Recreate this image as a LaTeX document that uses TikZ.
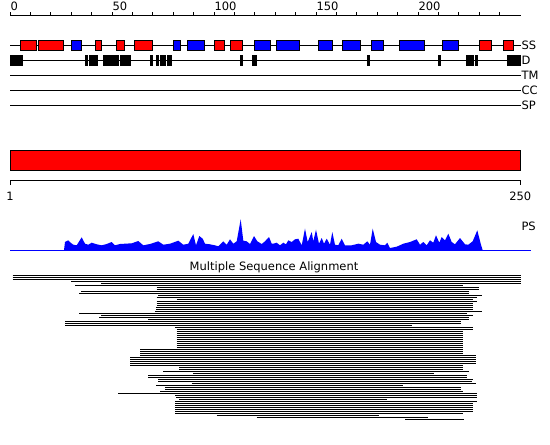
\documentclass[tikz,border=0pt]{standalone}
\usepackage{fontspec}
\setmainfont{DejaVu Sans}
\definecolor{ssred}{HTML}{FF0000}
\definecolor{ssblue}{HTML}{0000FF}
\tikzset{
  every picture/.style={line width=1pt},
  helix/.style={draw=black, fill=ssred},
  strand/.style={draw=black, fill=ssblue},
  disorder/.style={fill=black},
  tracklabel/.style={anchor=base west, inner sep=0pt, font=\fontsize{11.5}{13}\selectfont},
  ticklabel/.style={inner sep=0pt, font=\fontsize{11.5}{13}\selectfont},
  alnrow/.style={draw=black, line width=1.1pt},
}

\begin{document}
\begin{tikzpicture}[x=1pt, y=-1pt]
  \useasboundingbox (0,0) rectangle (550,445);
  % residue ruler
  \draw (10,15) -- (520.7,15);
  \foreach \r in {0,10,...,240} \draw ({10+2.04*\r},15) -- ({10+2.04*\r},11.5);
  \foreach \r in {0,50,...,200} \node[ticklabel, anchor=base west] (tick\r) at ({10+2.04*\r},10.3) {\r};
  % tracks
  \foreach \y/\t in {45/SS, 60.5/D, 75/TM, 90/CC, 105/SP} {
    \draw (10,\y) -- (520.7,\y);
    \node[tracklabel] (lbl\t) at (521,\y+4.2) {\t};
  }
  \foreach \a/\b in {20.7/36.7, 38.3/63.3, 95.3/101.7, 116/124.3, 134.3/152.7, 214.3/224.7, 230.3/242.3, 479.3/491.7, 503.3/513.3}
    \draw[helix] (\a,40) rectangle (\b,50);
  \foreach \a/\b in {71/81.7, 173.3/180, 187.3/204, 254.3/270, 276.7/299.3, 318.3/332.7, 342.3/360.7, 371.3/383.3, 399.3/424.3, 442.3/458.3}
    \draw[strand] (\a,40) rectangle (\b,50);
  \foreach \a/\b in {10/22.7, 85/87.7, 89/97.7, 103.3/119, 120/130.7, 150/152.7, 155.7/158.7, 160/166, 167/172, 240/242.7, 252.3/256.7, 367.3/369.7, 438.3/441, 466/473.7, 475/478, 507.3/520.7}
    \fill[disorder] (\a,55) rectangle (\b,65.7);

  % whole chain and its length
  \draw[helix] (10,150) rectangle (520.7,170.7);
  \draw (10,185) -- (10,180.7) -- (520.3,180.7) -- (520.3,185);
  \node[ticklabel, anchor=base] (lenfirst) at (10,200) {1};
  \node[ticklabel, anchor=base] (lenlast) at (520.3,200) {250};

  % PS profile
  \draw[ssblue] (10,250) -- (530.7,250);
  \fill[ssblue] plot coordinates {(64,250.3) (65,242) (68.3,240.3) (70.7,242.7) (73.3,244.7) (76.7,245.3) (81.7,237.3) (85,243.7) (88.3,244.7) (91.7,242.7) (96.7,244.3) (101.7,245.3) (106.7,244) (111.7,242) (115,245.3) (120,244) (125,243.7) (131.7,243.3) (138.3,241) (143.3,245.3) (150,244) (158.3,241.3) (163.3,244.7) (170,243.7) (178.3,240.7) (183.3,244.7) (188.3,243.7) (193.3,234) (196,245.3) (199.3,236) (202.7,238.7) (205,243.7) (210,244.3) (215,245.3) (218.3,246.3) (223.3,241.3) (226.7,244.7) (230,239.3) (233.3,243.7) (236.7,241.3) (240.7,219.3) (243.3,240.7) (246.7,241.3) (250,244) (254,236) (257.3,241.3) (261.7,244) (265,241.3) (269,237) (271.7,243.7) (273.3,243.7) (276.7,242.7) (280,245.3) (283.3,242.7) (286,244.3) (288.3,240.3) (291.7,242) (295,239.3) (298.3,238.7) (301.7,245.3) (305,228.7) (307.7,242) (311.7,232) (313.3,241.3) (316,229.7) (319,243.7) (321.7,238) (324,243.7) (326.7,238.7) (330,244.7) (332.3,232) (335,244.7) (338.3,245.3) (341.7,238.7) (345,245.3) (351.7,245.3) (358.3,243.7) (363.3,244.7) (367.3,241.3) (370,244.7) (372.7,228.7) (376,242) (380,244.7) (385,245.3) (387.3,242.7) (390,248) (396.7,246.7) (403.3,243.7) (410,242) (416.7,239.3) (420,244.7) (423.3,242) (426.7,245.3) (430,240.3) (433.3,242.7) (436,235.3) (439.3,242.7) (441.7,237) (445,240.3) (448.3,233.7) (451.7,242) (455,244.3) (460,238) (465,244.3) (468.3,244.7) (472.7,241.3) (477.3,230.3) (480.7,243.7) (482.7,250.3)} -- cycle;
  \node[tracklabel] (lblPS) at (521,230.7) {PS};

  % alignment
  \node[ticklabel, anchor=base] (alntitle) at (274,270) {Multiple Sequence Alignment};
  \foreach \k/\s/\e in {0/12.7/520.7, 1/12.7/520.7, 2/12.7/520.7, 3/71/520.7, 4/101/520.7, 5/75/462.7, 6/156.7/479.3, 7/156.7/479.3, 8/81/469.3, 9/79.3/469.3,
      10/158.3/481.7, 11/156.7/477.3, 12/176.7/473.3, 13/156.7/477.3, 14/156.7/473.3, 15/156.7/473.3, 16/156/473.3, 17/156/473.3, 18/155/481.7, 19/79.3/466.7,
      20/101/473.3, 21/99.3/469.3, 22/148.3/469.3, 23/65/460.7, 24/65/460.7, 25/65/411.7, 26/175/473.3, 27/176.7/473.3, 28/176.7/462.7, 29/176.7/462.7,
      30/176.7/462.7, 31/176.7/462.7, 32/176.7/462.7, 33/176.7/462.7, 34/176.7/462.7, 35/176.7/462.7, 36/176.7/462.7, 37/140/462.7, 38/140/462.7, 39/140/462.7,
      40/140/475.7, 41/130/475.7, 42/130/475.7, 43/130/475.7, 44/130/475.7, 45/130/462.7, 46/179.3/462.7, 47/179.3/462.7, 48/163.3/469.3, 49/193.3/434.3,
      50/148.3/466.7, 51/148.3/466.7, 52/158/473.3, 53/158.3/471.7, 54/191.7/475.7, 55/156/403.3, 56/165/460.7, 57/165/460.7, 58/160/462.7, 59/118.3/477.3,
      60/175/477.3, 61/176/477.3, 62/179.3/387.3, 63/175/477.3, 64/175/473.3, 65/175/473.3, 66/175/473.3, 67/175/473.3, 68/175/473.3, 69/175/462.7,
      70/216.7/379, 71/256.7/428, 72/405/464}
    \draw[alnrow] (\s,{275.5+2*\k}) -- (\e,{275.5+2*\k});
\end{tikzpicture}
\end{document}
